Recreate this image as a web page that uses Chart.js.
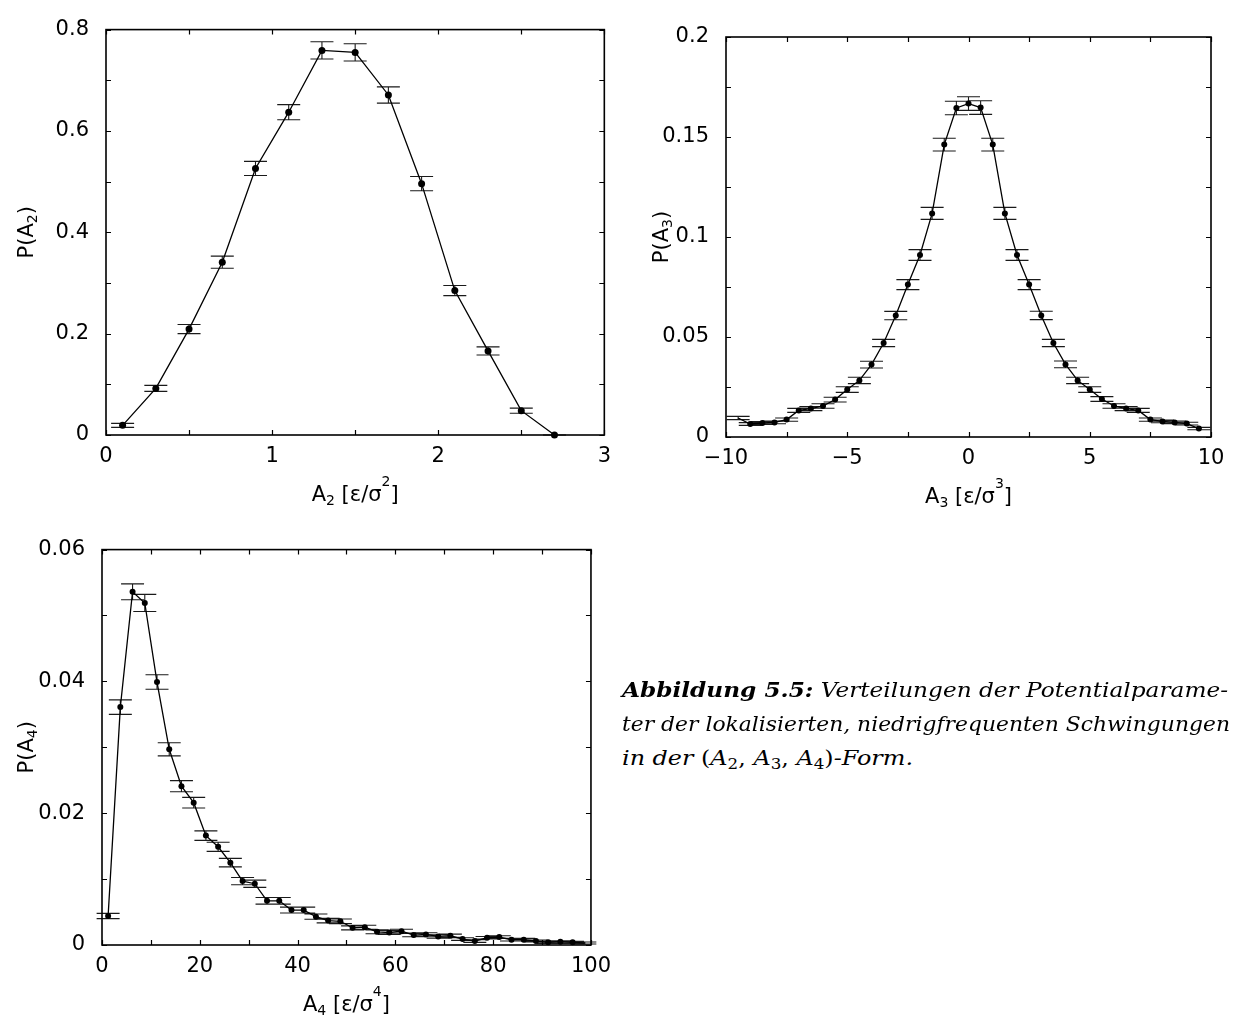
<!DOCTYPE html>
<html>
<head>
<meta charset="utf-8">
<script src="https://cdn.jsdelivr.net/npm/chart.js@4.4.1/dist/chart.umd.min.js"></script>
<style>
  html, body { margin: 0; padding: 0; background: #fff; }
  body { width: 1236px; height: 1021px; position: relative; overflow: hidden; }
  canvas { position: absolute; }
  #cA2 { left: 0; top: 0; }
  #cA3 { left: 620px; top: 0; }
  #cA4 { left: 0; top: 520px; }
  .caption {
    position: absolute; left: 622px; top: 673px; width: 620px;
    font-family: "DejaVu Serif", serif; font-style: italic; font-size: 20px;
    line-height: 34px; color: #000;
  }
  .caption .row { display: block; height: 34px; }
  .caption .ln { display: inline-block; white-space: nowrap; transform-origin: 0 50%; }
  .caption b { font-weight: bold; }
  .caption .m { font-style: normal; }
  .caption .m i { font-style: italic; }
  .caption sub { font-size: 14px; font-style: normal; vertical-align: -4px; line-height: 0; }
</style>
</head>
<body>
<canvas id="cA2" width="620" height="520"></canvas>
<canvas id="cA3" width="616" height="520"></canvas>
<canvas id="cA4" width="620" height="501"></canvas>
<div class="caption">
  <div class="row"><span class="ln"><b>Abbildung 5.5:</b> Verteilungen der Potentialparame-</span></div>
  <div class="row"><span class="ln">ter der lokalisierten, niedrigfrequenten Schwingungen</span></div>
  <div class="row"><span class="ln">in der <span class="m">(<i>A</i><sub>2</sub>, <i>A</i><sub>3</sub>, <i>A</i><sub>4</sub>)</span>-Form.</span></div>
</div>
<script>
// ---- A2 distribution ----
const a2Centers = [0.1, 0.3, 0.5, 0.7, 0.9, 1.1, 1.3, 1.5, 1.7, 1.9, 2.1, 2.3, 2.5, 2.7];
const a2Prob    = [0.019, 0.092, 0.209, 0.341, 0.526, 0.637, 0.759, 0.755, 0.671, 0.496, 0.285, 0.166, 0.048, 0.0];
const a2Err     = [0.004, 0.006, 0.009, 0.012, 0.014, 0.015, 0.017, 0.017, 0.016, 0.014, 0.010, 0.008, 0.005, 0.0];

// ---- A3 distribution ----
const a3Centers = [-9.5, -9.0, -8.5, -8.0, -7.5, -7.0, -6.5, -6.0, -5.5, -5.0, -4.5, -4.0, -3.5, -3.0, -2.5, -2.0, -1.5, -1.0, -0.5,
                   0.0, 0.5, 1.0, 1.5, 2.0, 2.5, 3.0, 3.5, 4.0, 4.5, 5.0, 5.5, 6.0, 6.5, 7.0, 7.5, 8.0, 8.5, 9.0, 9.5];
const a3Prob    = [0.0095, 0.0065, 0.0070, 0.0073, 0.0087, 0.0133, 0.0142, 0.0155, 0.0187, 0.0237, 0.0283, 0.0362, 0.0470, 0.0607, 0.0762, 0.0910, 0.1118, 0.1462, 0.1645,
                   0.1667, 0.1647, 0.1462, 0.1118, 0.0910, 0.0762, 0.0608, 0.0470, 0.0363, 0.0283, 0.0237, 0.0190, 0.0155, 0.0142, 0.0133, 0.0087, 0.0078, 0.0073, 0.0067, 0.0042];
const a3Err     = [0.0008, 0.0007, 0.0007, 0.0007, 0.0008, 0.0010, 0.0010, 0.0011, 0.0012, 0.0014, 0.0016, 0.0017, 0.0018, 0.0021, 0.0025, 0.0027, 0.0030, 0.0032, 0.0034,
                   0.0034, 0.0034, 0.0032, 0.0030, 0.0027, 0.0025, 0.0021, 0.0018, 0.0017, 0.0016, 0.0014, 0.0012, 0.0011, 0.0010, 0.0010, 0.0008, 0.0007, 0.0007, 0.0007, 0.0006];

// ---- A4 distribution ----
const a4Centers = [1.25, 3.75, 6.25, 8.75, 11.25, 13.75, 16.25, 18.75, 21.25, 23.75, 26.25, 28.75, 31.25, 33.75, 36.25, 38.75, 41.25, 43.75, 46.25, 48.75,
                   51.25, 53.75, 56.25, 58.75, 61.25, 63.75, 66.25, 68.75, 71.25, 73.75, 76.25, 78.75, 81.25, 83.75, 86.25, 88.75, 91.25, 93.75, 96.25, 98.75];
const a4Prob    = [0.0044, 0.0361, 0.0536, 0.0519, 0.0399, 0.0297, 0.0241, 0.0216, 0.0166, 0.0149, 0.0125, 0.0097, 0.0093, 0.0067, 0.0067, 0.0053, 0.0053, 0.0043, 0.0037, 0.0036,
                   0.0026, 0.0027, 0.0020, 0.0019, 0.0021, 0.0015, 0.0016, 0.0013, 0.0014, 0.0009, 0.0006, 0.0011, 0.0012, 0.0008, 0.0008, 0.0006, 0.0004, 0.0005, 0.0004, 0.0003];
const a4Err     = [0.0004, 0.0011, 0.0012, 0.0013, 0.0011, 0.0010, 0.00085, 0.0008, 0.00072, 0.0007, 0.00065, 0.00055, 0.00055, 0.0005, 0.0005, 0.00045, 0.00045, 0.0004, 0.00035, 0.00035,
                   0.0003, 0.0003, 0.0003, 0.0003, 0.0003, 0.00025, 0.00025, 0.00025, 0.00025, 0.0002, 0.0002, 0.0002, 0.0002, 0.0002, 0.0002, 0.00015, 0.00015, 0.00015, 0.00015, 0.00015];

// ---- axis titles (segments: plain, subscript, superscript) ----
const a2XTitle = [{t: 'A'}, {t: '2', sub: true}, {t: ' [ε/σ'}, {t: '2', sup: true}, {t: ']'}];
const a2YTitle = [{t: 'P(A'}, {t: '2', sub: true}, {t: ')'}];
const a3XTitle = [{t: 'A'}, {t: '3', sub: true}, {t: ' [ε/σ'}, {t: '3', sup: true}, {t: ']'}];
const a3YTitle = [{t: 'P(A'}, {t: '3', sub: true}, {t: ')'}];
const a4XTitle = [{t: 'A'}, {t: '4', sub: true}, {t: ' [ε/σ'}, {t: '4', sup: true}, {t: ']'}];
const a4YTitle = [{t: 'P(A'}, {t: '4', sub: true}, {t: ')'}];

const FONT = '"DejaVu Sans", sans-serif';
const FSIZE = 21;

// frame on all four sides with inward tick marks
const frameTicks = {
  id: 'frameTicks',
  afterDatasetsDraw(chart) {
    const {ctx, chartArea: a, scales: {x, y}} = chart;
    const L = 5;
    ctx.save();
    ctx.strokeStyle = '#000';
    ctx.lineWidth = 1.2;
    ctx.beginPath();
    x.ticks.forEach(t => {
      const px = Math.round(x.getPixelForValue(t.value)) + 0.5;
      ctx.moveTo(px, a.bottom); ctx.lineTo(px, a.bottom - L);
      ctx.moveTo(px, a.top); ctx.lineTo(px, a.top + L);
    });
    y.ticks.forEach(t => {
      const py = Math.round(y.getPixelForValue(t.value)) + 0.5;
      ctx.moveTo(a.left, py); ctx.lineTo(a.left + L, py);
      ctx.moveTo(a.right, py); ctx.lineTo(a.right - L, py);
    });
    ctx.stroke();
    ctx.lineWidth = 1.6;
    ctx.strokeRect(a.left, a.top, a.right - a.left, a.bottom - a.top);
    ctx.restore();
  }
};

// vertical error bars with caps, drawn under the points
const errorBars = {
  id: 'errorBars',
  beforeDatasetsDraw(chart, args, opts) {
    const {ctx, scales: {x, y}} = chart;
    const pts = chart.data.datasets[0].data;
    const half = opts.cap / 2;
    ctx.save();
    ctx.strokeStyle = '#1a1a1a';
    ctx.lineWidth = 1.1;
    ctx.beginPath();
    pts.forEach((p, i) => {
      const e = opts.err[i];
      const px = x.getPixelForValue(p.x);
      const yt = y.getPixelForValue(p.y + e);
      const yb = y.getPixelForValue(p.y - e);
      ctx.moveTo(px, yt); ctx.lineTo(px, yb);
      ctx.moveTo(px - half, yt); ctx.lineTo(px + half, yt);
      ctx.moveTo(px - half, yb); ctx.lineTo(px + half, yb);
    });
    ctx.stroke();
    ctx.restore();
  }
};

function drawRich(ctx, segs, size) {
  const small = Math.round(size * 0.66);
  let total = 0;
  const w = segs.map(s => {
    ctx.font = `${(s.sub || s.sup) ? small : size}px ${FONT}`;
    const m = ctx.measureText(s.t).width;
    total += m;
    return m;
  });
  let cx = -total / 2;
  segs.forEach((s, i) => {
    ctx.font = `${(s.sub || s.sup) ? small : size}px ${FONT}`;
    const dy = s.sub ? size * 0.2 : (s.sup ? -size * 0.72 : 0);
    ctx.fillText(s.t, cx, dy);
    cx += w[i];
  });
}

// axis titles with sub- and superscripts
const richTitles = {
  id: 'richTitles',
  afterDraw(chart, args, opts) {
    const {ctx, chartArea: a} = chart;
    ctx.save();
    ctx.fillStyle = '#000';
    ctx.textBaseline = 'alphabetic';
    ctx.textAlign = 'left';
    ctx.save();
    ctx.translate((a.left + a.right) / 2, a.bottom + opts.xGap);
    drawRich(ctx, opts.x, FSIZE);
    ctx.restore();
    ctx.save();
    ctx.translate(a.left - opts.yGap + FSIZE * 0.36, (a.top + a.bottom) / 2);
    ctx.rotate(-Math.PI / 2);
    drawRich(ctx, opts.y, FSIZE);
    ctx.restore();
    ctx.restore();
  }
};

function fmt(v) {
  const r = Math.round(v * 1e6) / 1e6;
  return (r < 0 ? '\u2212' : '') + String(Math.abs(r));
}

function makeChart(id, c) {
  const noMark = c.noMark || [];
  return new Chart(document.getElementById(id), {
    type: 'line',
    data: {
      datasets: [{
        data: c.xs.map((x, i) => ({x: x, y: c.ys[i]})),
        borderColor: '#000',
        borderWidth: 1.3,
        backgroundColor: '#000',
        pointBackgroundColor: '#000',
        pointBorderWidth: 0,
        pointRadius: ctx => noMark.includes(ctx.dataIndex) ? 0 : c.r,
        tension: 0,
        fill: false,
        clip: false
      }]
    },
    options: {
      responsive: false,
      animation: false,
      events: [],
      layout: {padding: {left: 0, top: c.padTop, right: c.padRight, bottom: 0}},
      plugins: {
        legend: {display: false},
        tooltip: {enabled: false},
        errorBars: {err: c.err, cap: 23},
        richTitles: {x: c.xTitle, y: c.yTitle, xGap: c.xGap, yGap: c.yGap}
      },
      scales: {
        x: {
          type: 'linear', min: c.xMin, max: c.xMax,
          afterFit: s => { s.height = c.xH; },
          grid: {display: false, drawTicks: false},
          border: {display: false},
          ticks: {
            stepSize: c.xStep, autoSkip: false, maxRotation: 0, minRotation: 0,
            padding: 9, color: '#000', font: {family: FONT, size: FSIZE},
            callback: v => c.xMajor(v) ? fmt(v) : ''
          }
        },
        y: {
          type: 'linear', min: c.yMin, max: c.yMax,
          afterFit: s => { s.width = c.yW; },
          grid: {display: false, drawTicks: false},
          border: {display: false},
          ticks: {
            stepSize: c.yStep, autoSkip: false, padding: 17, color: '#000',
            font: {family: FONT, size: FSIZE},
            callback: v => c.yMajor(v) ? fmt(v) : ''
          }
        }
      }
    },
    plugins: [errorBars, frameTicks, richTitles]
  });
}

const near = (v, step) => Math.abs(v / step - Math.round(v / step)) < 1e-6;

makeChart('cA2', {
  xs: a2Centers, ys: a2Prob, err: a2Err, r: 3.5,
  xMin: 0, xMax: 3, xStep: 0.5, xMajor: v => near(v, 1),
  yMin: 0, yMax: 0.8, yStep: 0.1, yMajor: v => near(v, 0.2),
  padTop: 20, padRight: 12, yW: 106, xH: 85,
  xTitle: a2XTitle, yTitle: a2YTitle, xGap: 66, yGap: 81
});

makeChart('cA3', {
  xs: a3Centers, ys: a3Prob, err: a3Err, r: 3, noMark: [0],
  xMin: -10, xMax: 10, xStep: 2.5, xMajor: v => near(v, 5),
  yMin: 0, yMax: 0.2, yStep: 0.025, yMajor: v => near(v, 0.05),
  padTop: 37, padRight: 25, yW: 106, xH: 83,
  xTitle: a3XTitle, yTitle: a3YTitle, xGap: 66, yGap: 66
});

makeChart('cA4', {
  xs: a4Centers, ys: a4Prob, err: a4Err, r: 3, noMark: [a4Centers.length - 1],
  xMin: 0, xMax: 100, xStep: 10, xMajor: v => near(v, 20),
  yMin: 0, yMax: 0.06, yStep: 0.01, yMajor: v => near(v, 0.02),
  padTop: 21, padRight: 28, yW: 102, xH: 76,
  xTitle: a4XTitle, yTitle: a4YTitle, xGap: 66, yGap: 77
});

// caption lines are set to the column widths of the printed figure caption
const captionWidths = [606, 608, 291];
document.querySelectorAll('.caption .ln').forEach((el, i) => {
  const w = el.getBoundingClientRect().width;
  if (w > 0) el.style.transform = `scaleX(${captionWidths[i] / w})`;
});
</script>
</body>
</html>
